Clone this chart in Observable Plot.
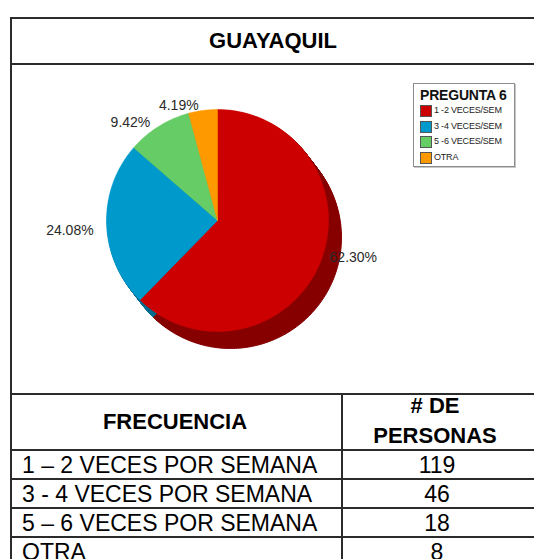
<!DOCTYPE html>
<html><head><meta charset="utf-8">
<script src="https://cdn.jsdelivr.net/npm/d3@7"></script>
<script src="https://cdn.jsdelivr.net/npm/@observablehq/plot@0.6"></script>
<style>
body{margin:0;background:#fff;width:534px;height:559px;overflow:hidden;position:relative;font-family:"Liberation Sans",Arial,sans-serif;}
.hl{position:absolute;height:2px;background:#2b2b2b;}
.vl{position:absolute;width:2px;background:#2b2b2b;}
.t{position:absolute;white-space:nowrap;color:#000;line-height:1;}
#chart{position:absolute;left:12px;top:65px;}
#legend{position:absolute;left:413px;top:83px;width:100px;height:82px;border:1px solid #8c8c8c;box-shadow:1px 1px 0 #c8c8c8;background:#fff;}
</style></head><body>
<div id="chart"></div>
<script>
const title = "GUAYAQUIL";
const legendTitle = "PREGUNTA 6";
const categories = ["1 -2 VECES/SEM", "3 -4 VECES/SEM", "5 -6 VECES/SEM", "OTRA"];
const tableLabels = ["1 – 2 VECES POR SEMANA", "3 - 4 VECES POR SEMANA", "5 – 6 VECES POR SEMANA", "OTRA"];
const counts = [119, 46, 18, 8];
const headers = ["FRECUENCIA", "# DE", "PERSONAS"];
const colors = ["#cc0000", "#0099cc", "#66cc66", "#ff9900"];
const sideColors = ["#870000", "#006b8f", "#479147", "#b36b00"];

const body = document.body;
function el(cls, style, text) {
  const d = document.createElement("div");
  d.className = cls;
  Object.assign(d.style, style);
  if (text != null) d.textContent = text;
  body.appendChild(d);
  return d;
}
// frame lines
el("hl", {left: "10px", top: "17px", width: "540px"});
el("vl", {left: "10px", top: "17px", height: "560px"});
el("hl", {left: "10px", top: "63px", width: "540px"});
const rowLines = [393, 449, 478, 507, 536];
rowLines.forEach(y => el("hl", {left: "10px", top: y + "px", width: "540px"}));
el("vl", {left: "341px", top: "393px", height: "180px"});

// title
el("t", {left: "273px", top: "41px", transform: "translate(-50%,-50%)", fontWeight: "bold", fontSize: "22px"}, title);
// headers
el("t", {left: "175px", top: "422px", transform: "translate(-50%,-50%)", fontWeight: "bold", fontSize: "22px"}, headers[0]);
el("t", {left: "435px", top: "406px", transform: "translate(-50%,-50%)", fontWeight: "bold", fontSize: "22px"}, headers[1]);
el("t", {left: "435px", top: "436px", transform: "translate(-50%,-50%)", fontWeight: "bold", fontSize: "22px"}, headers[2]);
// rows
tableLabels.forEach((lab, i) => {
  const cy = 465 + 29 * i;
  el("t", {left: "22px", top: cy + "px", transform: "translateY(-50%)", fontSize: "23px"}, lab);
  el("t", {left: "437px", top: cy + "px", transform: "translate(-50%,-50%)", fontSize: "23px"}, String(counts[i]));
});

// legend
const lg = document.createElement("div");
lg.id = "legend";
body.appendChild(lg);
const lt = document.createElement("div");
Object.assign(lt.style, {position: "absolute", left: "6px", top: "4px", fontWeight: "bold", fontSize: "14px", lineHeight: "1", color: "#111", whiteSpace: "nowrap", letterSpacing: "-0.2px"});
lt.textContent = legendTitle;
lg.appendChild(lt);
categories.forEach((c, i) => {
  const sw = document.createElement("div");
  Object.assign(sw.style, {position: "absolute", left: "6px", top: (21 + 15.5 * i) + "px", width: "10px", height: "10px", background: colors[i], border: "1px solid #555"});
  lg.appendChild(sw);
  const tx = document.createElement("div");
  Object.assign(tx.style, {position: "absolute", left: "20px", top: (22 + 15.5 * i) + "px", fontSize: "9px", lineHeight: "1", color: "#222", whiteSpace: "nowrap", letterSpacing: "-0.2px"});
  tx.textContent = c;
  lg.appendChild(tx);
});

// pie
const total = d3.sum(counts);
let acc = 0;
const slices = counts.map((c, i) => {
  const s = acc;
  acc += c / total * 2 * Math.PI;
  return {i, start: s, end: acc, mid: (s + acc) / 2, pct: c / total};
});
const pts = [];
for (const s of slices) {
  pts.push({i: s.i, x: 0, y: 0});
  const n = Math.max(2, Math.ceil((s.end - s.start) / (Math.PI / 180)));
  for (let k = 0; k <= n; k++) {
    const a = s.start + (s.end - s.start) * k / n;
    pts.push({i: s.i, x: Math.sin(a), y: -Math.cos(a)});
  }
  pts.push({i: s.i, x: 0, y: 0});
}
const W = 522, H = 328, cx = 205, cy = 155, R = 111, DX = 13, DY = 17;
const marks = [];
for (let k = 1; k <= 18; k++) {
  marks.push(Plot.line(pts, {x: "x", y: "y", z: "i", fill: d => sideColors[d.i], stroke: d => sideColors[d.i], strokeWidth: 1, dx: DX * k / 18, dy: DY * k / 18}));
}
marks.push(Plot.line(pts, {x: "x", y: "y", z: "i", fill: d => colors[d.i], stroke: d => colors[d.i], strokeWidth: 0.5}));
const fmt = s => (s.pct * 100).toFixed(2) + "%";
marks.push(Plot.text(slices.filter(s => Math.sin(s.mid) >= 0), {x: s => 1.09 * Math.sin(s.mid), y: s => -1.09 * Math.cos(s.mid), text: fmt, textAnchor: "start", dy: -9, fontSize: 14, fill: "#2a2a2a"}));
marks.push(Plot.text(slices.filter(s => Math.sin(s.mid) < 0), {x: s => 1.09 * Math.sin(s.mid), y: s => -1.09 * Math.cos(s.mid), text: fmt, textAnchor: "end", dy: 5, dx: -3, fontSize: 14, fill: "#2a2a2a"}));

const svg = Plot.plot({
  width: W, height: H, margin: 0,
  x: {domain: [-1, 1], range: [cx - R, cx + R], axis: null},
  y: {domain: [-1, 1], range: [cy - R, cy + R], axis: null},
  color: {type: "identity"},
  style: {background: "transparent", fontFamily: "Liberation Sans, Arial, sans-serif", overflow: "visible"},
  marks
});
document.getElementById("chart").appendChild(svg);
</script>
</body></html>
